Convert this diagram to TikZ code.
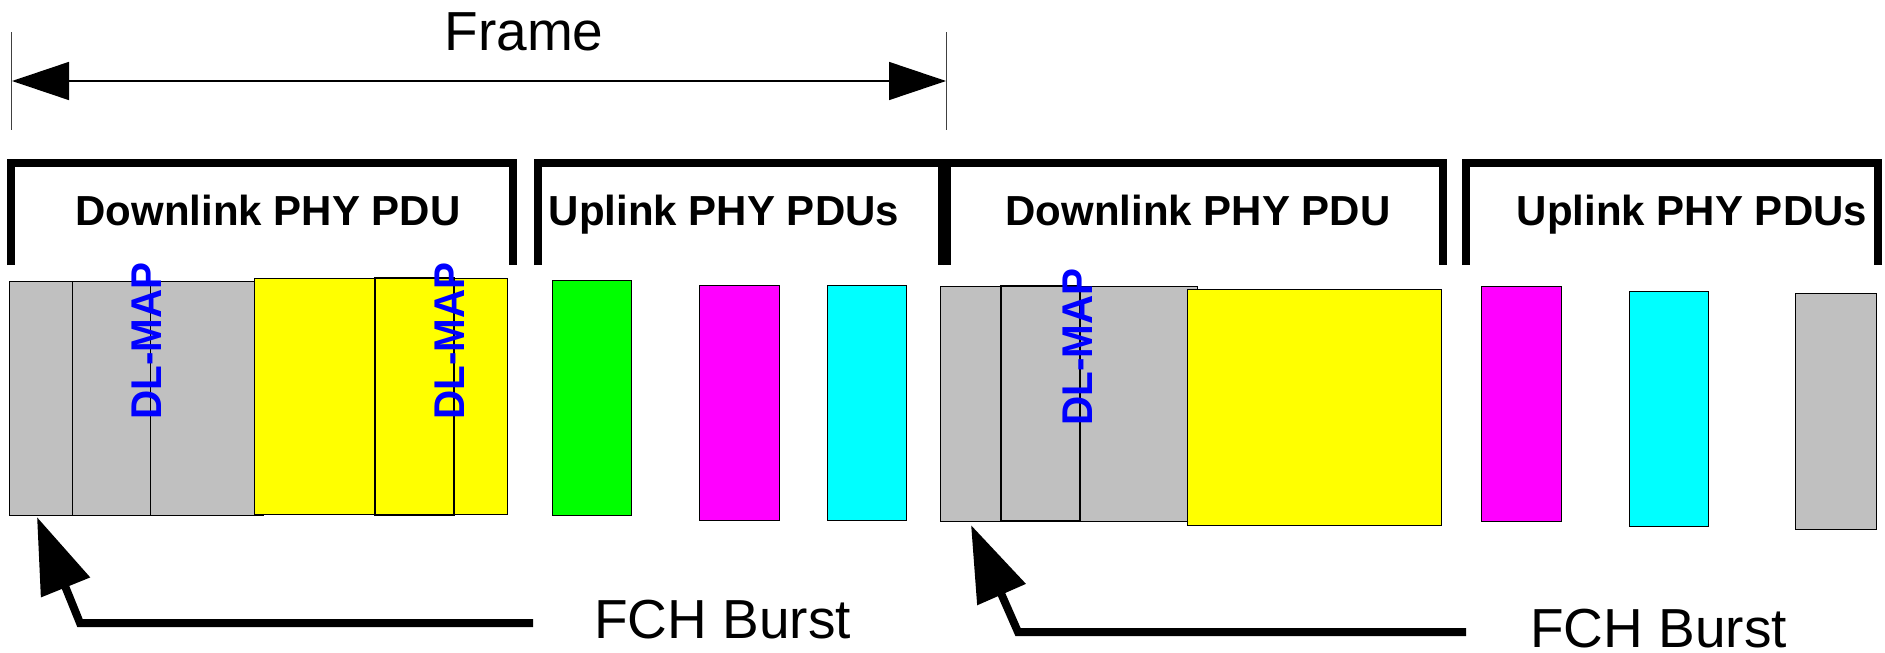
\documentclass[tikz,border=0pt]{standalone}
\usepackage{fontspec}
\usepackage{graphicx}
\setmainfont{Liberation Sans}
\usetikzlibrary{arrows.meta}
\definecolor{pgray}{HTML}{C0C0C0}
\definecolor{pyellow}{HTML}{FFFF00}
\definecolor{pgreen}{HTML}{00FF00}
\definecolor{pmagenta}{HTML}{FF00FF}
\definecolor{pcyan}{HTML}{00FFFF}
\definecolor{pblue}{HTML}{0000FF}
\tikzset{
  blk/.style={draw=black, line width=1pt, inner sep=0pt, outer sep=0pt, anchor=north west},
  brk/.style={line width=8pt, line join=miter},
  hdr/.style={font=\fontsize{42}{50}\selectfont\bfseries, anchor=base, inner sep=0pt},
  big/.style={font=\fontsize{55}{66}\selectfont, inner sep=0pt},
  dlmap/.style={font=\fontsize{43}{51}\selectfont\bfseries, text=pblue, rotate=90, inner sep=0pt},
  fcharrow/.style={line width=8pt, line join=miter, -{Triangle[length=76pt,width=51pt]}},
  tick/.style={draw=black!75, line width=1pt},
}
\begin{document}
\begin{tikzpicture}[x=1pt,y=-1pt]
\useasboundingbox[fill=white] (0,0) rectangle (1885,653);

% Frame dimension
\draw[tick] (11,32) -- (11,130);
\draw[tick] (946,32) -- (946,130);
\coordinate (fl) at (12,81);
\coordinate (fr) at (946,81);
\draw[line width=1.5pt, {Triangle[length=57pt,width=38pt]}-{Triangle[length=57pt,width=38pt]}] (fl) -- (fr);
\node[big, anchor=base] (frame) at (524,50) {Frame};

% brackets
\draw[brk] (11,265) -- (11,163) -- (513,163) -- (513,265);
\draw[brk] (538,265) -- (538,163) -- (942,163) -- (942,265);
\draw[brk] (947,265) -- (947,163) -- (1443,163) -- (1443,265);
\draw[brk] (1466,265) -- (1466,163) -- (1878,163) -- (1878,265);
\node[hdr] (dl1) at (268,225) {Downlink PHY PDU};
\node[hdr] (ul1) at (724,225) {Uplink PHY PDUs};
\node[hdr] (dl2) at (1198,225) {Downlink PHY PDU};
\node[hdr] (ul2) at (1692,225) {Uplink PHY PDUs};

% first downlink PDU
\node[blk, fill=pgray, minimum width=254pt, minimum height=234pt] (g1) at (9,281) {};
\draw[line width=1pt] (72,281) -- (72,515);
\draw[line width=1pt] (150,281) -- (150,515);
\node[blk, fill=pyellow, minimum width=253pt, minimum height=236pt] (y1) at (254,278) {};
\node[blk, line width=1.4pt, minimum width=79pt, minimum height=237pt] (y1b) at (375,278) {};
\node[dlmap] (m1) at (147,341) {\scalebox{0.94}[1]{DL-MAP}};
\node[dlmap] (m2) at (450,341) {\scalebox{0.94}[1]{DL-MAP}};

% first uplink
\node[blk, fill=pgreen, minimum width=79pt, minimum height=235pt] (u1) at (552,280) {};
\node[blk, fill=pmagenta, minimum width=80pt, minimum height=235pt] (u2) at (699,285) {};
\node[blk, fill=pcyan, minimum width=79pt, minimum height=235pt] (u3) at (827,285) {};

% second downlink PDU
\node[blk, fill=pgray, minimum width=257pt, minimum height=235pt] (g2) at (940,286) {};
\node[blk, line width=1.4pt, minimum width=79pt, minimum height=235pt] (g2b) at (1001,286) {};
\node[blk, fill=pyellow, minimum width=254pt, minimum height=236pt] (y2) at (1187,289) {};
\node[dlmap] (m3) at (1078,347) {\scalebox{0.94}[1]{DL-MAP}};

% second uplink
\node[blk, fill=pmagenta, minimum width=80pt, minimum height=235pt] (u4) at (1481,286) {};
\node[blk, fill=pcyan, minimum width=79pt, minimum height=235pt] (u5) at (1629,291) {};
\node[blk, fill=pgray, minimum width=81pt, minimum height=236pt] (u6) at (1795,293) {};

% FCH arrows
\node[big, anchor=base west] (fch1) at (594,638) {FCH Burst};
\node[big, anchor=base west] (fch2) at (1530,647) {FCH Burst};
\coordinate (a1s) at (533,623);
\coordinate (a1c) at (80,623);
\coordinate (t1) at (37,517);
\draw[fcharrow] (a1s) -- (a1c) -- (t1);
\coordinate (a2s) at (1466,632);
\coordinate (a2c) at (1018,632);
\coordinate (t2) at (971,525);
\draw[fcharrow] (a2s) -- (a2c) -- (t2);
\end{tikzpicture}
\end{document}
